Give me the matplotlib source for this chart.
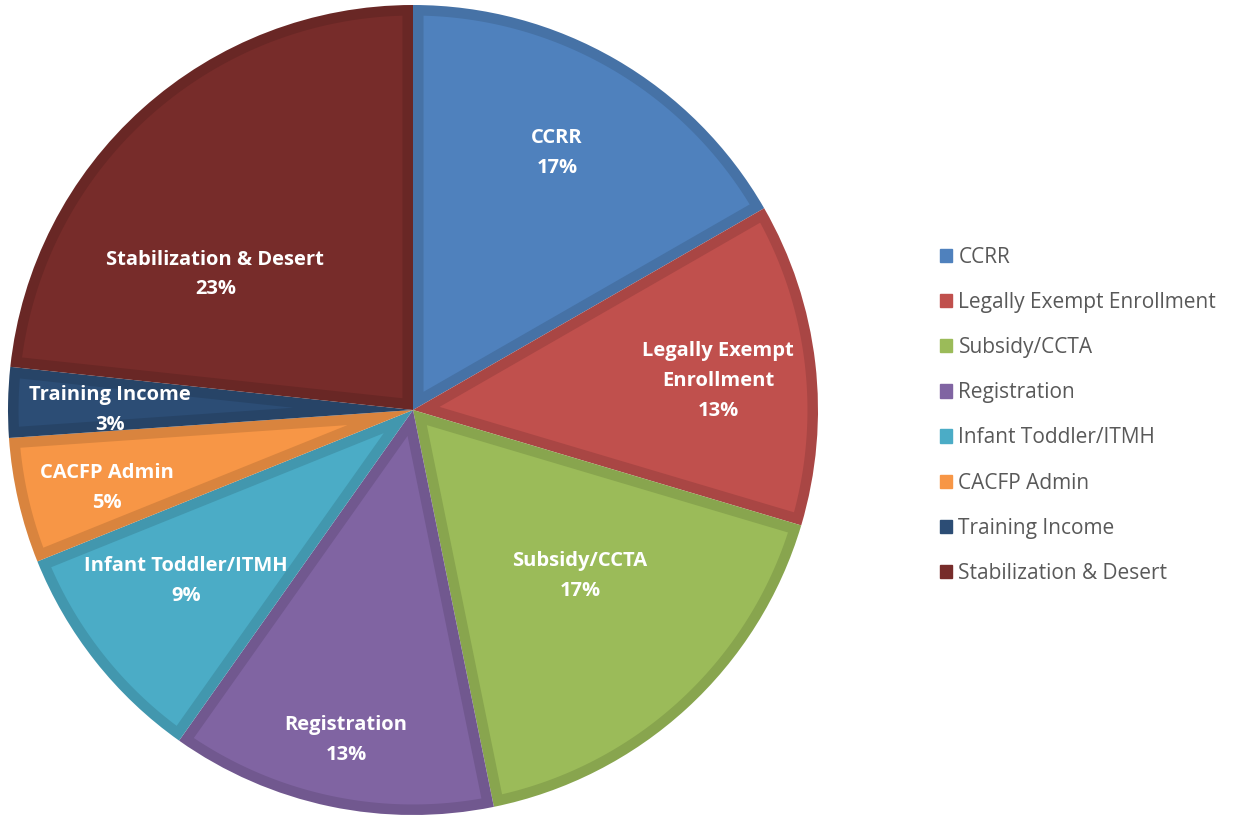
import numpy as np
import matplotlib.pyplot as plt
import matplotlib.transforms as mtrans
from matplotlib.colors import to_rgb
from matplotlib.patches import Patch, Polygon

labels = ['CCRR', 'Legally Exempt Enrollment', 'Subsidy/CCTA', 'Registration',
          'Infant Toddler/ITMH', 'CACFP Admin', 'Training Income', 'Stabilization & Desert']
inlabels = ['CCRR', 'Legally Exempt\nEnrollment', 'Subsidy/CCTA', 'Registration',
            'Infant Toddler/ITMH', 'CACFP Admin', 'Training Income', 'Stabilization & Desert']
values = [16.7, 12.9, 17.2, 13.0, 9.1, 5.0, 2.8, 23.3]
pcts = ['17%', '13%', '17%', '13%', '9%', '5%', '3%', '23%']
colors = ['#4F81BD', '#C0504D', '#9BBB59', '#8064A2', '#4BACC6', '#F79646', '#2C4D75', '#772C2A']

# label placement (fraction of radius, angle in deg)
labrad = [0.74, 0.758, 0.571, 0.817, 0.693, 0.776, 0.748, 0.60]
labang = [61.3, 6.5, -43.8, -101.7, -144.0, -166.8, 178.9, 144.4]

border = 0.026

plt.rcParams['font.family'] = ['Open Sans', 'DejaVu Sans']

fig = plt.figure(figsize=(12.38, 8.17), dpi=100)
ax = fig.add_axes([8/1238, 2/817, 810/1238, 810/817])

darks = [tuple(np.array(to_rgb(c)) * 0.88) for c in colors]
wedges, _ = ax.pie(values, colors=darks, startangle=90, counterclock=False,
                   wedgeprops=dict(linewidth=0))

# inner (lighter) part of each slice, inset by the border width
for w, c in zip(wedges, colors):
    t1, t2 = np.deg2rad(w.theta1), np.deg2rad(w.theta2)
    half = (t2 - t1) / 2.
    rin = 1. - border
    da = np.arcsin(border / rin)
    arc = np.linspace(t1 + da, t2 - da, 100)
    apex_r = border / np.sin(half)
    mid = (t1 + t2) / 2.
    pts = [(apex_r*np.cos(mid), apex_r*np.sin(mid))]
    pts += [(rin*np.cos(a), rin*np.sin(a)) for a in arc]
    ax.add_patch(Polygon(pts, closed=True, facecolor=c, edgecolor='none'))

# slight downward shift so text block sits like the original
trans = mtrans.offset_copy(ax.transData, fig=fig, y=-6, units='dots')
for t, p, r, a in zip(inlabels, pcts, labrad, labang):
    ang = np.deg2rad(a)
    ax.text(r*np.cos(ang), r*np.sin(ang), t + '\n' + p, ha='center', va='center',
            color='white', fontsize=14.5, fontweight='bold', linespacing=1.65,
            transform=trans)
ax.set_xlim(-1, 1)
ax.set_ylim(-1, 1)
ax.set_aspect('equal')

handles = [Patch(facecolor=c, edgecolor=c) for c in colors]
leg = fig.legend(handles, labels, loc='upper left', bbox_to_anchor=(921/1238, 1-228/817),
                 frameon=False, fontsize=15, labelspacing=1.16, handlelength=0.6,
                 handleheight=0.6, handletextpad=0.3, labelcolor='#595959')

fig.savefig('out.png', dpi=100)
